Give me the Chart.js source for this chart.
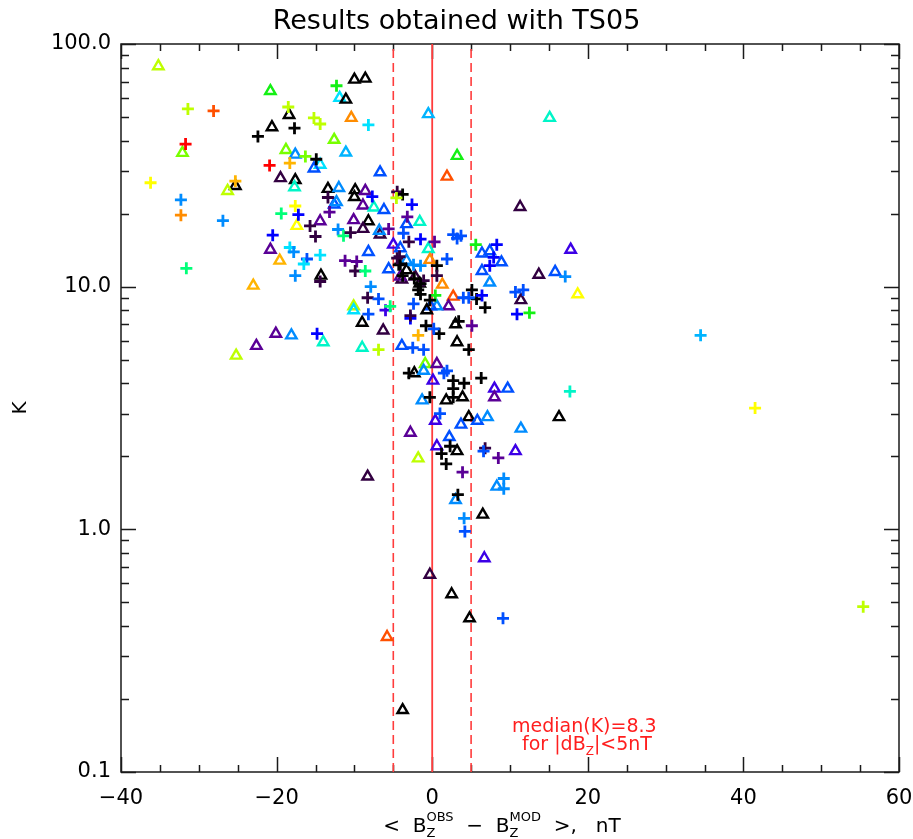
<!DOCTYPE html>
<html>
<head>
<meta charset="utf-8">
<script src="https://cdn.jsdelivr.net/npm/chart.js@4.4.1/dist/chart.umd.min.js"></script>
<style>
html,body{margin:0;padding:0;background:#ffffff;}
#wrap{width:913px;height:839px;position:relative;}
</style>
</head>
<body>
<div id="wrap"><canvas id="c"></canvas></div>
<script>
// ---------- axis data ----------
const xTickValues = [-40, -20, 0, 20, 40, 60];
const xTickLabels = ['\u221240', '\u221220', '0', '20', '40', '60'];
const xMinorValues = [-35, -30, -25, -15, -10, -5, 5, 10, 15, 25, 30, 35, 45, 50, 55];
const yTickValues = [0.1, 1, 10, 100];
const yTickLabels = ['0.1', '1.0', '10.0', '100.0'];
const yMinorValues = [0.2, 0.3, 0.4, 0.5, 0.6, 0.7, 0.8, 0.9, 2, 3, 4, 5, 6, 7, 8, 9, 20, 30, 40, 50, 60, 70, 80, 90];
const solidLineX = [0];
const dashedLineX = [-5, 5];

// ---------- colour table ----------
const palette = {
  black: '#000000', dkpurple: '#320041', purple: '#5a0096', violet: '#3c00e6',
  blue: '#0000ff', royal: '#0050ff', azure: '#008cff', sky: '#00b4ff',
  cyan: '#00e1ff', aqua: '#00f5c8', spring: '#00ff78', green: '#14f014',
  lime: '#78ff00', chart: '#beff00', yellow: '#ffff00', amber: '#ffb400',
  orange: '#ff8c00', redorange: '#ff5000', red: '#ff0000'
};

// ---------- triangles ----------
const triX = [
  -35.2, -20.8, -18.4, -20.6, -12.6, -32.1, -18.8, -17.6, -14.4, -15.2,
  -25.3, -26.3, -19.5, -17.6, -17.7, -13.4, -12.0, -12.6, -12.3, -17.4,
  -14.4, -20.8, -19.6, -14.3, -23.0, -11.9, -11.1, -10.0, -8.6, -10.4,
  -11.1, -0.5, 15.1, 3.2, 1.9, -6.7, -9.9, -10.0, -8.6, 11.3,
  -8.9, -7.5, -6.2, -3.3, -1.6, -10.1, -8.2, -8.9, -6.7, -6.8,
  -8.2, -5.0, -4.1, -0.5, -0.3, -3.3, 6.4, 7.4, 8.9, 17.8,
  -5.6, -3.9, -4.1, -2.2, -3.3, -1.6, 6.4, 7.4, 13.7, 15.8,
  18.7, 1.3, -10.1, -10.1, -9.0, -6.3, -9.0, -3.9, 3.0, 3.2,
  2.7, 2.1, 0.6, -0.2, -0.7, 11.4, -2.3, -0.9, -1.1, 0.6,
  0.1, 8.0, 9.7, 8.0, -1.3, 1.8, 3.9, 0.4, 4.7, 3.7,
  5.8, 7.1, 16.3, 11.4, -2.8, 2.2, 3.2, 0.6, 10.7, -1.8,
  -8.3, 8.3, 3.0, 6.5, 6.7, -0.3, 2.5, 4.8, -5.8, -3.8,
  -20.1, -18.1, -22.6, -25.2, -14.0
];
const triK = [
  81, 64, 51, 45.4, 40.3, 35.6, 36.6, 35, 31.8, 30.7,
  26, 24.8, 28, 27.5, 25.7, 25.3, 25.5, 21.8, 22.3, 17.8,
  18.6, 14.2, 12.8, 11.1, 10.1, 60, 59, 71.3, 72, 49.6,
  35.7, 51.4, 49.6, 34.6, 28.4, 29.6, 25, 23.4, 24.8, 21.3,
  21.6, 21.2, 20.7, 18.1, 18.5, 18.8, 18.6, 17.3, 16.4, 17.0,
  13.9, 14.9, 14.4, 14.3, 12.9, 12.8, 13.7, 14.0, 12.6, 14.2,
  11.8, 10.7, 11.0, 11.0, 11.7, 10.3, 11.6, 10.4, 11.2, 11.5,
  9.3, 10.2, 8.3, 8.0, 7.1, 6.6, 5.6, 5.7, 7.0, 5.9,
  9.1, 8.3, 8.3, 8.3, 8.0, 8.8, 4.4, 4.8, 4.5, 4.8,
  4.1, 3.8, 3.8, 3.5, 3.4, 3.4, 3.5, 2.8, 2.9, 2.7,
  2.8, 2.9, 2.9, 2.6, 2.5, 2.4, 2.1, 2.2, 2.1, 1.96,
  1.65, 1.5, 1.32, 1.15, 0.76, 0.65, 0.54, 0.43, 0.36, 0.18,
  6.4, 6.3, 5.7, 5.2, 5.9
];
const triColor = [
  'chart', 'green', 'black', 'black', 'lime', 'lime', 'lime', 'azure', 'cyan', 'royal',
  'black', 'chart', 'dkpurple', 'black', 'aqua', 'black', 'azure', 'royal', 'azure', 'yellow',
  'purple', 'purple', 'amber', 'black', 'amber', 'cyan', 'black', 'black', 'black', 'orange',
  'sky', 'sky', 'aqua', 'green', 'redorange', 'royal', 'black', 'black', 'purple', 'dkpurple',
  'purple', 'aqua', 'royal', 'royal', 'aqua', 'purple', 'black', 'dkpurple', 'dkpurple', 'azure',
  'royal', 'violet', 'royal', 'aqua', 'orange', 'azure', 'royal', 'royal', 'royal', 'violet',
  'royal', 'dkpurple', 'purple', 'dkpurple', 'black', 'black', 'royal', 'azure', 'dkpurple', 'royal',
  'yellow', 'orange', 'chart', 'cyan', 'black', 'dkpurple', 'aqua', 'royal', 'black', 'black',
  'redorange', 'purple', 'azure', 'royal', 'black', 'dkpurple', 'black', 'lime', 'azure', 'purple',
  'violet', 'violet', 'royal', 'purple', 'azure', 'black', 'black', 'violet', 'black', 'royal',
  'royal', 'azure', 'black', 'azure', 'purple', 'royal', 'black', 'violet', 'violet', 'chart',
  'dkpurple', 'azure', 'azure', 'black', 'violet', 'dkpurple', 'black', 'black', 'redorange', 'black',
  'purple', 'azure', 'purple', 'chart', 'aqua'
];

// ---------- plus signs ----------
const plusX = [
  -31.4, -28.1, -18.5, -15.2, -14.4, -17.7, -22.4, -31.7, -16.3, -14.9,
  -20.9, -18.3, -36.2, -25.3, -13.4, -13.2, -32.3, -32.3, -26.9, -17.6,
  -19.4, -17.2, -15.7, -15.0, -12.1, -20.5, -18.3, -17.8, -16.1, -16.5,
  -14.4, -31.6, -17.6, -14.4, -12.3, -8.2, -7.7, -4.5, -3.8, -4.6,
  -2.6, -3.2, -11.4, -10.5, -3.7, -5.6, -3.0, -1.5, 0.3,
  2.7, 3.2, 3.7, 5.6, 8.3, 7.9, -4.2, -11.2, -9.7, -9.9,
  -8.6, -4.1, -3.8, -1.5, 0.6, 7.4, 17.1, -7.9, -8.3, -6.9,
  -6.0, -5.4, -8.2, -6.9, -2.5, -1.1, -1.8, -0.8, 0.9, 0.2,
  4.7, 5.1, -2.8, 6.8, 5.1, 5.7, 4.0, 4.7, 6.4, 0.4,
  -1.1, 0.6, 10.7, 11.7, 10.9, 12.5, -3.0, 1.5, 1.9, 2.7,
  4.1, 2.7, 6.3, -0.3, 2.7, 1.0, 2.3, 1.2, 1.8, 6.8,
  6.6, 8.5, 3.9, 9.2, 9.2, 3.3, 4.1, 4.2, 9.1, -14.8,
  34.5, 17.7, 41.5, 55.4, -2.4, 1.9, -2.4, -1.8, -1.5, -0.3,
  -4.3, -4.5, -2.3, -1.5, -2.8, 3.4
];
const plusK = [
  54, 53, 55, 49.6, 46.8, 45, 41.6, 38.7, 34.4, 33.5,
  31.6, 32.3, 26.8, 27.2, 23.3, 20.3, 22.8, 19.7, 18.7, 21.5,
  20.0, 19.8, 17.8, 16.1, 17.2, 16.3, 14.5, 13.9, 13.0, 12.4,
  13.5, 11.9, 11.1, 10.5, 67.3, 46.4, 23.5, 24.6, 24.0, 23.2,
  21.8, 19.4, 16.2, 16.7, 16.6, 17.3, 15.3, 15.7, 15.3,
  16.4, 15.8, 16.2, 14.9, 14.9, 13.2, 13.3, 12.8, 12.7, 11.6,
  11.6, 12.4, 11.1, 12.2, 12.2, 12.2, 11.0, 10.0, 9.0, 8.9,
  8.0, 8.3, 7.7, 5.5, 5.6, 5.5, 6.3, 6.9, 6.4, 6.7,
  5.5, 6.9, 7.4, 8.2, 9.7, 8.9, 9.0, 9.0, 9.2, 9.2,
  10.6, 11.1, 9.5, 9.7, 7.7, 7.8, 4.4, 4.4, 4.5, 4.1,
  4.0, 3.8, 4.2, 3.5, 3.5, 3.0, 2.2, 2.05, 1.86, 2.16,
  2.1, 1.97, 1.72, 1.62, 1.47, 1.39, 1.11, 0.98, 0.43, 6.4,
  6.3, 3.7, 3.16, 0.48, 12.3, 13.0, 8.5, 9.7, 9.3, 8.8,
  12.3, 13.1, 10.8, 10.3, 7.6, 7.2
];
const plusColor = [
  'chart', 'redorange', 'chart', 'chart', 'chart', 'black', 'black', 'red', 'lime', 'black',
  'red', 'amber', 'yellow', 'amber', 'dkpurple', 'purple', 'azure', 'orange', 'azure', 'yellow',
  'spring', 'blue', 'dkpurple', 'dkpurple', 'azure', 'blue', 'cyan', 'azure', 'royal', 'cyan',
  'cyan', 'spring', 'azure', 'dkpurple', 'green', 'cyan', 'blue', 'dkpurple', 'black', 'chart',
  'blue', 'purple', 'spring', 'dkpurple', 'royal', 'purple', 'dkpurple', 'blue', 'purple',
  'royal', 'royal', 'royal', 'green', 'blue', 'blue', 'dkpurple', 'purple', 'purple', 'dkpurple',
  'spring', 'black', 'black', 'azure', 'black', 'blue', 'azure', 'azure', 'dkpurple', 'royal',
  'violet', 'spring', 'royal', 'chart', 'royal', 'royal', 'amber', 'black', 'black', 'royal',
  'black', 'purple', 'blue', 'black', 'black', 'black', 'royal', 'royal', 'blue', 'green',
  'dkpurple', 'dkpurple', 'royal', 'royal', 'blue', 'green', 'black', 'royal', 'royal', 'black',
  'black', 'black', 'black', 'black', 'black', 'royal', 'black', 'black', 'black', 'dkpurple',
  'royal', 'purple', 'purple', 'azure', 'azure', 'black', 'azure', 'royal', 'royal', 'blue',
  'sky', 'aqua', 'yellow', 'chart', 'azure', 'royal', 'royal', 'black', 'black', 'black',
  'black', 'dkpurple', 'black', 'black', 'dkpurple', 'black'
];

// ---------- texts ----------
const titleText = 'Results obtained with TS05';
const yTitleText = 'K';
const medianText = 'median(K)=8.3';

// ---------- build ----------
const FONT = "'DejaVu Sans', 'Liberation Sans', sans-serif";
const lineRed = '#ff3c3c';
const textRed = '#ff1e1e';

const triData = triX.map((x, i) => ({ x: x, y: triK[i] }));
const plusData = plusX.map((x, i) => ({ x: x, y: plusK[i] }));

const lineSets = [];
solidLineX.forEach(v => lineSets.push({
  type: 'scatter', data: [{ x: v, y: 0.1 }, { x: v, y: 100 }], showLine: true,
  borderColor: lineRed, borderWidth: 1.8, pointRadius: 0, order: 5
}));
dashedLineX.forEach(v => lineSets.push({
  type: 'scatter', data: [{ x: v, y: 0.1 }, { x: v, y: 100 }], showLine: true,
  borderColor: lineRed, borderWidth: 1.6, borderDash: [9, 5], pointRadius: 0, order: 5
}));

function drawRich(ctx, parts, startX, baseY, mainSize, smallSize, supDy, subDy) {
  let xPos = startX;
  parts.forEach(p => {
    if (p.t !== undefined) {
      ctx.font = mainSize + 'px ' + FONT;
      ctx.fillText(p.t, xPos, baseY);
      xPos += ctx.measureText(p.t).width;
    } else {
      ctx.font = smallSize + 'px ' + FONT;
      let w = 0;
      if (p.sub) { ctx.fillText(p.sub, xPos, baseY + subDy); w = Math.max(w, ctx.measureText(p.sub).width); }
      if (p.sup) { ctx.fillText(p.sup, xPos, baseY + supDy); w = Math.max(w, ctx.measureText(p.sup).width); }
      xPos += w;
    }
  });
  return xPos - startX;
}
function richWidth(ctx, parts, mainSize, smallSize) {
  let w = 0;
  parts.forEach(p => {
    if (p.t !== undefined) { ctx.font = mainSize + 'px ' + FONT; w += ctx.measureText(p.t).width; }
    else {
      ctx.font = smallSize + 'px ' + FONT;
      w += Math.max(p.sub ? ctx.measureText(p.sub).width : 0, p.sup ? ctx.measureText(p.sup).width : 0);
    }
  });
  return w;
}

const framePlugin = {
  id: 'idlFrame',
  beforeDatasetsDraw(chart) {
    const ctx = chart.ctx;
    const a = chart.chartArea;
    const xs = chart.scales.x, ys = chart.scales.y;
    ctx.save();
    ctx.strokeStyle = '#1a1a1a';
    ctx.lineWidth = 1.5;
    ctx.strokeRect(a.left, a.top, a.right - a.left, a.bottom - a.top);
    ctx.beginPath();
    const xt = (vals, len) => vals.forEach(v => {
      const p = Math.round(xs.getPixelForValue(v)) + 0.5;
      ctx.moveTo(p, a.bottom); ctx.lineTo(p, a.bottom - len);
      ctx.moveTo(p, a.top); ctx.lineTo(p, a.top + len);
    });
    const yt = (vals, len) => vals.forEach(v => {
      const p = Math.round(ys.getPixelForValue(v)) + 0.5;
      ctx.moveTo(a.left, p); ctx.lineTo(a.left + len, p);
      ctx.moveTo(a.right, p); ctx.lineTo(a.right - len, p);
    });
    xt(xTickValues, 15); xt(xMinorValues, 7);
    yt(yTickValues, 15); yt(yMinorValues, 8);
    ctx.stroke();
    ctx.restore();
  },
  afterDraw(chart) {
    const ctx = chart.ctx;
    const a = chart.chartArea;
    ctx.save();
    // x axis title with sub/superscripts
    ctx.fillStyle = '#000';
    ctx.textAlign = 'left';
    ctx.textBaseline = 'alphabetic';
    const parts = [
      { t: '<  B' }, { sub: 'Z', sup: 'OBS' }, { t: '  \u2212  B' }, { sub: 'Z', sup: 'MOD' }, { t: '  >,   nT' }
    ];
    const w = richWidth(ctx, parts, 20, 13);
    const cx = (a.left + a.right) / 2 - 8;
    drawRich(ctx, parts, cx - w / 2, a.bottom + 60, 20, 13, -11, 5);

    // median annotation
    ctx.fillStyle = textRed;
    ctx.font = '19px ' + FONT;
    ctx.fillText(medianText, a.left + 391, a.bottom - 40);
    const parts2 = [{ t: 'for |dB' }, { sub: 'Z' }, { t: '|<5nT' }];
    drawRich(ctx, parts2, a.left + 401, a.bottom - 22, 19, 12, -9, 5);
    ctx.restore();
  }
};

new Chart(document.getElementById('c'), {
  type: 'scatter',
  data: {
    datasets: [
      {
        label: 'triangles', data: triData, pointStyle: 'triangle',
        pointRadius: 6, pointHoverRadius: 6, pointBorderWidth: 2.4,
        pointBorderColor: triColor.map(c => palette[c]),
        pointBackgroundColor: 'rgba(0,0,0,0)', order: 2
      },
      {
        label: 'plus', data: plusData, pointStyle: 'cross',
        pointRadius: 6, pointHoverRadius: 6, pointBorderWidth: 2.8,
        pointBorderColor: plusColor.map(c => palette[c]),
        pointBackgroundColor: 'rgba(0,0,0,0)', order: 1
      },
      ...lineSets
    ]
  },
  options: {
    responsive: true,
    maintainAspectRatio: false,
    animation: false,
    events: [],
    layout: { padding: 0 },
    plugins: {
      legend: { display: false },
      tooltip: { enabled: false },
      title: {
        display: true, text: titleText, color: '#000',
        font: { family: FONT, size: 27, weight: 'normal', lineHeight: 1.2 },
        padding: { top: 6, bottom: 5.6 }
      }
    },
    scales: {
      x: {
        type: 'linear', min: -40, max: 60, position: 'bottom',
        afterBuildTicks: s => { s.ticks = xTickValues.map(v => ({ value: v })); },
        afterFit: s => { s.height = 67; s.paddingLeft = 0; s.paddingRight = 0; },
        ticks: {
          callback: v => xTickLabels[xTickValues.indexOf(v)],
          color: '#000', font: { family: FONT, size: 21 }, padding: 14,
          maxRotation: 0, autoSkip: false
        },
        grid: { display: false, drawTicks: false },
        border: { display: false }
      },
      y: {
        type: 'logarithmic', min: 0.1, max: 100, position: 'left',
        afterBuildTicks: s => { s.ticks = yTickValues.map(v => ({ value: v })); },
        afterFit: s => { s.width = 121; s.paddingTop = 0; s.paddingBottom = 0; },
        ticks: {
          callback: v => yTickLabels[yTickValues.indexOf(v)],
          color: '#000', font: { family: FONT, size: 21 }, padding: 10, autoSkip: false
        },
        grid: { display: false, drawTicks: false },
        border: { display: false },
        title: { display: true, text: yTitleText, color: '#000', font: { family: FONT, size: 20 }, padding: { top: 9, bottom: 0 } }
      },
      y2: {
        type: 'logarithmic', min: 0.1, max: 100, position: 'right',
        afterFit: s => { s.width = 14; s.paddingTop = 0; s.paddingBottom = 0; },
        ticks: { display: false },
        grid: { display: false, drawTicks: false },
        border: { display: false }
      }
    }
  },
  plugins: [framePlugin]
});
</script>
</body>
</html>
